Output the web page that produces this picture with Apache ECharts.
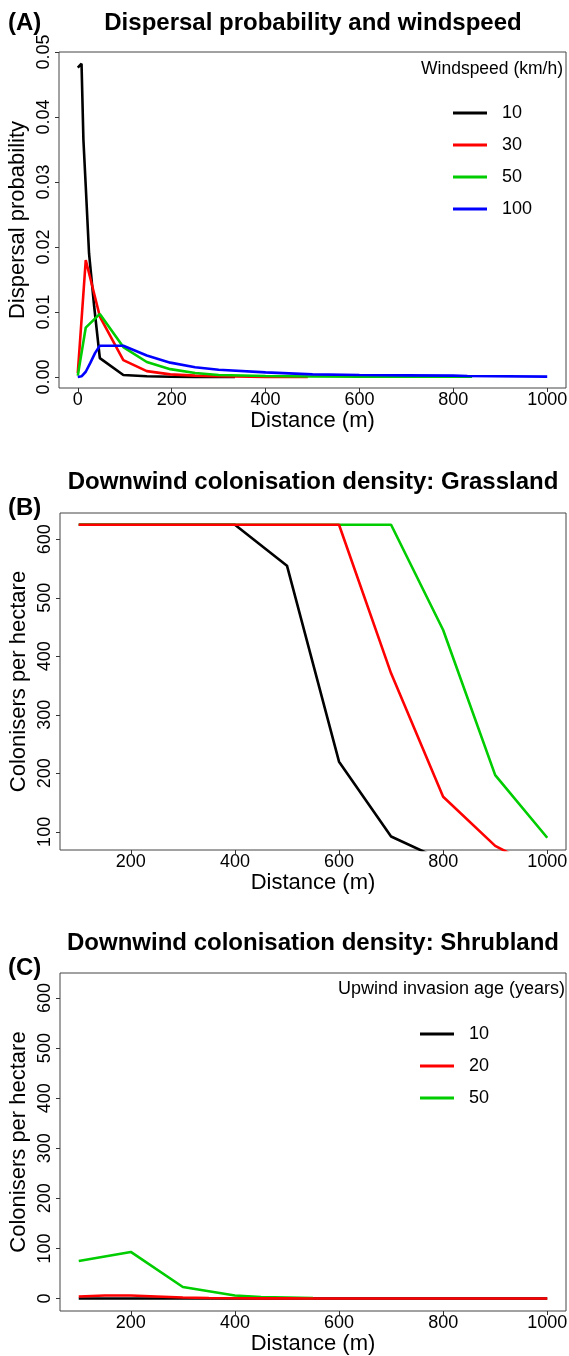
<!DOCTYPE html>
<html><head><meta charset="utf-8">
<script src="https://cdn.jsdelivr.net/npm/echarts@6/dist/echarts.min.js"></script>
<style>html,body{margin:0;padding:0;background:#fff}#c{width:569px;height:1356px}</style>
</head><body><div id="c"></div>
<script>
// ---------- Panel A: dispersal probability vs distance, by windspeed ----------
const windspeeds = ['10', '30', '50', '100'];
const distA_10 = [0, 8, 12, 17, 24, 35, 47, 97, 147, 197, 250, 335];
const probA_10 = [0.0476, 0.0482, 0.0365, 0.0293, 0.019, 0.0108, 0.0029, 0.0003, 0.0001, 0.00003, 0, 0];
const distA_30 = [0, 17, 47, 97, 147, 197, 250, 300, 400, 490];
const probA_30 = [0.0006, 0.018, 0.0093, 0.0026, 0.0009, 0.0004, 0.0002, 0.0001, 0, 0];
const distA_50 = [0, 17, 47, 97, 147, 197, 250, 300, 400, 500, 600, 700, 840];
const probA_50 = [0.0002, 0.0076, 0.0097, 0.0046, 0.0023, 0.0012, 0.0006, 0.0003, 0.00015, 0.00008, 0.00005, 0.00005, 0.00005];
const distA_100 = [0, 8, 17, 27, 37, 47, 97, 147, 197, 250, 300, 400, 500, 600, 700, 800, 830, 1000];
const probA_100 = [0, 0.0001, 0.0008, 0.0022, 0.0037, 0.0048, 0.0048, 0.0033, 0.0022, 0.0015, 0.0011, 0.0007, 0.0004, 0.0003, 0.00025, 0.0002, 0.00015, 0.00005];
const xTicksA = [0, 200, 400, 600, 800, 1000];
const yTicksA = [0, 0.01, 0.02, 0.03, 0.04, 0.05];

// ---------- Panel B: grassland colonisation density ----------
const distB_10 = [100, 200, 300, 400, 500, 600, 700, 800];
const densB_10 = [625, 625, 625, 625, 555, 220, 92, 51];
const distB_30 = [100, 200, 300, 400, 500, 600, 700, 800, 900, 1000];
const densB_30 = [625, 625, 625, 625, 625, 625, 371, 160, 76, 30];
const distB_50 = [100, 200, 300, 400, 500, 600, 700, 800, 900, 1000];
const densB_50 = [625, 625, 625, 625, 625, 625, 625, 445, 197, 90];
const yTicksB = [100, 200, 300, 400, 500, 600];

// ---------- Panel C: shrubland colonisation density, by invasion age ----------
const ages = ['10', '20', '50'];
const distC = [100, 150, 200, 250, 300, 350, 400, 450, 500, 550, 600, 700, 800, 900, 1000];
const densC_10 = [0, 0, 0, 0, 0, 0, 0, 0, 0, 0, 0, 0, 0, 0, 0];
const densC_20 = [4, 6, 6, 4, 2, 1, 0.5, 0.3, 0.2, 0, 0, 0, 0, 0, 0];
const distC_50 = [100, 200, 300, 400, 450, 500, 550];
const densC_50 = [75, 93, 23, 6, 3, 2, 1];
const xTicksBC = [200, 400, 600, 800, 1000];
const yTicksC = [0, 100, 200, 300, 400, 500, 600];

const FONT = 'Liberation Sans, Arial, sans-serif';
const colA = ['#000000', '#ff0000', '#00cd00', '#0000ff'];
const colC = ['#000000', '#ff0000', '#00cd00'];

function pairs(xs, ys) { return xs.map((x, i) => [x, ys[i]]); }

function xAx(gi, min, max, ticks) {
  return {
    type: 'value', gridIndex: gi, min: min, max: max,
    axisLine: { show: false, onZero: false },
    splitLine: { show: false },
    axisTick: { show: true, length: 4, customValues: ticks, lineStyle: { color: '#333', width: 1 } },
    axisLabel: { customValues: ticks, fontSize: 18, color: '#000', fontFamily: FONT, margin: 3, formatter: v => String(v) },
    name: 'Distance (m)', nameLocation: 'middle', nameGap: 22, nameMoveOverlap: false,
    nameTextStyle: { fontSize: 22, color: '#000', fontFamily: FONT }
  };
}
function yAx(gi, min, max, ticks, name, fmt) {
  return {
    type: 'value', gridIndex: gi, min: min, max: max,
    axisLine: { show: false, onZero: false },
    splitLine: { show: false },
    axisTick: { show: true, length: 4, customValues: ticks, lineStyle: { color: '#333', width: 1 } },
    axisLabel: { customValues: ticks, fontSize: 18, color: '#000', fontFamily: FONT, rotate: 90, margin: 6, formatter: fmt },
    name: name, nameLocation: 'middle', nameGap: 30, nameMoveOverlap: false,
    nameTextStyle: { fontSize: 22, color: '#000', fontFamily: FONT }
  };
}
function line(name, gi, data, color) {
  return {
    type: 'line', name: name, xAxisIndex: gi, yAxisIndex: gi, data: data,
    showSymbol: false, symbol: 'none', clip: true, animation: false,
    lineStyle: { color: color, width: 2.6 }, itemStyle: { color: color }
  };
}

const seriesA = [
  line(windspeeds[0] + ' km/h', 0, pairs(distA_10, probA_10), colA[0]),
  line(windspeeds[1] + ' km/h', 0, pairs(distA_30, probA_30), colA[1]),
  line(windspeeds[2] + ' km/h', 0, pairs(distA_50, probA_50), colA[2]),
  line(windspeeds[3] + ' km/h', 0, pairs(distA_100, probA_100), colA[3])
];
const seriesB = [
  line('B ' + windspeeds[0], 1, pairs(distB_10, densB_10), colA[0]),
  line('B ' + windspeeds[2], 1, pairs(distB_50, densB_50), colA[2]),
  line('B ' + windspeeds[1], 1, pairs(distB_30, densB_30), colA[1])
];
const seriesC = [
  line(ages[0] + ' years', 2, pairs(distC, densC_10), colC[0]),
  line(ages[2] + ' years', 2, pairs(distC_50, densC_50), colC[2]),
  line(ages[1] + ' years', 2, pairs(distC, densC_20), colC[1])
];

function titleText(x, y, text, size, bold, align) {
  return { type: 'text', x: x, y: y, silent: true,
    style: { text: text, fill: '#000', font: (bold ? 'bold ' : '') + size + 'px ' + FONT,
      textAlign: align || 'center', textVerticalAlign: 'middle' } };
}

const legendBase = {
  orient: 'vertical', icon: 'rect', itemWidth: 34, itemHeight: 3, itemGap: 14,
  textStyle: { fontSize: 18, color: '#000', fontFamily: FONT, lineHeight: 18, padding: [0, 0, 0, 10] },
  formatter: n => n.split(' ')[0], selectedMode: false
};

const gridBase = { show: true, borderColor: '#444', borderWidth: 1, backgroundColor: 'transparent',
  containLabel: false, outerBoundsMode: 'none' };

const option = {
  animation: false,
  backgroundColor: '#fff',
  grid: [
    Object.assign({}, gridBase, { left: 59, top: 52, width: 507, height: 336 }),
    Object.assign({}, gridBase, { left: 60, top: 513, width: 506, height: 337 }),
    Object.assign({}, gridBase, { left: 60, top: 973, width: 506, height: 338 })
  ],
  xAxis: [xAx(0, -40, 1040, xTicksA), xAx(1, 64, 1036, xTicksBC), xAx(2, 64, 1036, xTicksBC)],
  yAxis: [
    yAx(0, -0.0017, 0.05, yTicksA, 'Dispersal probability', v => v.toFixed(2)),
    yAx(1, 69, 645, yTicksB, 'Colonisers per hectare', v => String(v)),
    yAx(2, -25, 650, yTicksC, 'Colonisers per hectare', v => String(v))
  ],
  legend: [
    Object.assign({}, legendBase, { left: 448, top: 99, data: windspeeds.map(w => w + ' km/h') }),
    Object.assign({}, legendBase, { left: 415, top: 1020, data: ages.map(a => a + ' years') })
  ],
  series: seriesA.concat(seriesB, seriesC),
  graphic: [
    titleText(8, 23, '(A)', 24, true, 'left'),
    titleText(313, 23, 'Dispersal probability and windspeed', 24, true),
    titleText(563, 69, 'Windspeed (km/h)', 17.5, false, 'right'),
    titleText(8, 508, '(B)', 24, true, 'left'),
    titleText(313, 482, 'Downwind colonisation density: Grassland', 24, true),
    titleText(8, 968, '(C)', 24, true, 'left'),
    titleText(313, 943, 'Downwind colonisation density: Shrubland', 24, true),
    titleText(565, 989, 'Upwind invasion age (years)', 18, false, 'right')
  ]
};

const chart = echarts.init(document.getElementById('c'), null, { renderer: 'canvas' });
chart.setOption(option);
</script>
</body></html>
